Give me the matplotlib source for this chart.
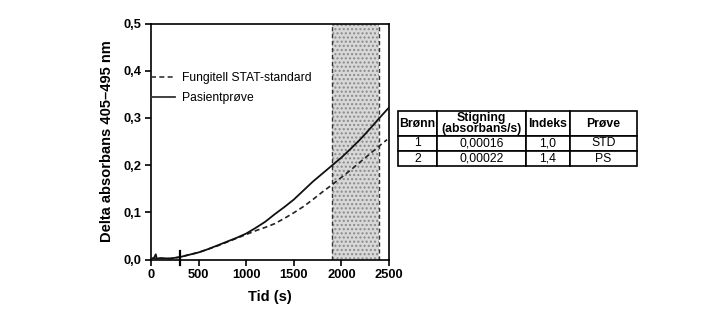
import matplotlib
matplotlib.use('Agg')
import matplotlib.pyplot as plt
from matplotlib.ticker import FuncFormatter

plt.rcParams['font.family'] = ['Liberation Sans', 'DejaVu Sans']

# data
t_patient = [0, 30, 50, 60, 100, 200, 300, 400, 500, 600, 700, 800, 900, 1000, 1100, 1200, 1300,
             1400, 1500, 1600, 1700, 1800, 1900, 2000, 2100, 2200, 2300, 2400, 2500]
v_patient = [0.002, 0.003, 0.011, 0.002, 0.003, 0.002, 0.005, 0.010, 0.015, 0.022, 0.030, 0.038, 0.046,
             0.055, 0.067, 0.080, 0.096, 0.111, 0.127, 0.146, 0.165, 0.182, 0.199, 0.216, 0.235,
             0.255, 0.277, 0.300, 0.322]
t_std = [0, 100, 200, 300, 400, 500, 600, 700, 800, 900, 1000, 1100, 1200, 1300, 1400, 1500,
         1600, 1700, 1800, 1900, 2000, 2100, 2200, 2300, 2400, 2480]
v_std = [0.002, 0.002, 0.002, 0.005, 0.010, 0.015, 0.022, 0.029, 0.037, 0.045, 0.053, 0.061, 0.068,
         0.076, 0.087, 0.099, 0.112, 0.127, 0.143, 0.158, 0.174, 0.190, 0.207, 0.224, 0.241, 0.254]
window = (1900, 2400)
marker_t = 300

col_labels = ['Brønn', 'Stigning\n(absorbans/s)', 'Indeks', 'Prøve']
rows = [['1', '0,00016', '1,0', 'STD'],
        ['2', '0,00022', '1,4', 'PS']]

W, H = 713, 313
fig = plt.figure(figsize=(W / 100, H / 100), dpi=100)
ax = fig.add_axes([151 / W, 1 - 259.5 / H, 238 / W, 236 / H])

ax.axvspan(window[0], window[1], ymin=0, ymax=1, facecolor='#d8d8d8',
           hatch='....', edgecolor='#8a8a8a', linewidth=0, zorder=1)
ax.vlines(window, 0, 0.5, colors='#333333', linestyles=(0, (3, 2)), linewidth=1.0, zorder=2)

ax.plot(t_std, v_std, color='#222222', linestyle=(0, (3, 2)), linewidth=1.2,
        label='Fungitell STAT-standard', zorder=3)
ax.plot(t_patient, v_patient, color='#111111', linewidth=1.3, label='Pasientprøve', zorder=3)
ax.plot([marker_t, marker_t], [-0.012, 0.018], color='black', linewidth=1.6, clip_on=False, zorder=4)

ax.set_xlim(0, 2500)
ax.set_ylim(0, 0.5)
ax.set_xticks([0, 500, 1000, 1500, 2000, 2500])
ax.set_yticks([0, 0.1, 0.2, 0.3, 0.4, 0.5])
ax.yaxis.set_major_formatter(FuncFormatter(lambda v, p: f'{v:.1f}'.replace('.', ',')))
ax.tick_params(direction='out', length=4, width=1.2, labelsize=9.3, pad=3)
for lbl in ax.get_xticklabels() + ax.get_yticklabels():
    lbl.set_fontweight('bold')
for s in ax.spines.values():
    s.set_linewidth(1.2)
ax.set_xlabel('Tid (s)', fontsize=10.5, fontweight='bold', labelpad=6)
ax.set_ylabel('Delta absorbans 405–495 nm', fontsize=10.5, fontweight='bold', labelpad=7)

leg = ax.legend(loc='upper left', bbox_to_anchor=(0.0, 0.795), frameon=False, fontsize=8.7,
                handlelength=2.0, handletextpad=0.6, labelspacing=0.65, borderaxespad=0,
                borderpad=0)
for line in leg.get_lines():
    line.set_color('#333333')

# table
tax = fig.add_axes([398 / W, 1 - 166 / H, 239 / W, 55 / H])
tax.axis('off')
tbl = tax.table(cellText=rows, colLabels=col_labels, cellLoc='center',
                colWidths=[39, 89, 44, 67], bbox=[0, 0, 1, 1])
tbl.auto_set_font_size(False)
for (r, c), cell in tbl.get_celld().items():
    cell.set_linewidth(1.2)
    cell.set_edgecolor('black')
    cell.PAD = 0.02
    txt = cell.get_text()
    txt.set_fontsize(8.8)
    if r == 0:
        txt.set_fontweight('bold')
        txt.set_linespacing(0.85)
        cell.set_height(25)
    else:
        cell.set_height(15)

fig.savefig('out.png', dpi=100)
